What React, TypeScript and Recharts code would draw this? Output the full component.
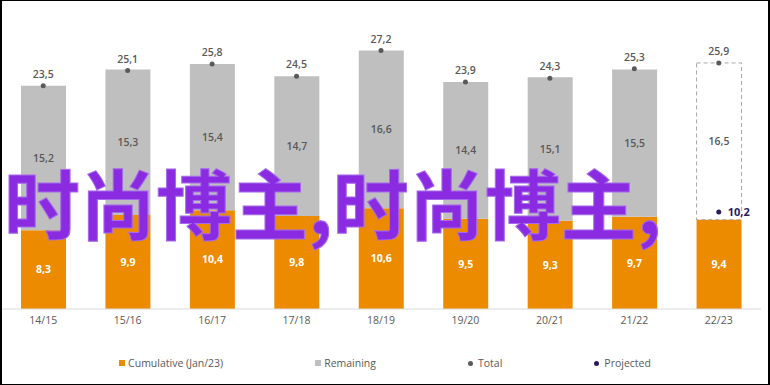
import React from "react";
import {
  ComposedChart,
  Bar,
  Line,
  XAxis,
  YAxis,
  Legend,
  LabelList,
  Cell,
} from "recharts";

const seasons = ["14/15", "15/16", "16/17", "17/18", "18/19", "19/20", "20/21", "21/22", "22/23"];
const cumulative = [8.3, 9.9, 10.4, 9.8, 10.6, 9.5, 9.3, 9.7, 9.4];
const remaining = [15.2, 15.3, 15.4, 14.7, 16.6, 14.4, 15.1, 15.5, 16.5];
const totals = [23.5, 25.1, 25.8, 24.5, 27.2, 23.9, 24.3, 25.3, 25.9];
const projected: (number | null)[] = [null, null, null, null, null, null, null, null, 10.2];
const projectedSeasons = ["22/23"];

const data = seasons.map((s, i) => ({
  season: s,
  cum: cumulative[i],
  rem: remaining[i],
  total: totals[i],
  proj: projected[i],
}));

const FONT = "'Open Sans', 'DejaVu Sans', sans-serif";
const ORANGE = "#ED8B00";
const GRAY = "#BFBFBF";
const DARK = "#595959";
const NAVY = "#2B1A5E";

const fmt = (v: any) => (v == null ? "" : String(v).replace(".", ","));

const legendItems = [
  { label: "Cumulative (Jan/23)", color: ORANGE, shape: "square" },
  { label: "Remaining", color: GRAY, shape: "square" },
  { label: "Total", color: DARK, shape: "circle" },
  { label: "Projected", color: NAVY, shape: "circle" },
];

const LegendContent = () => (
  <div
    style={{
      display: "flex",
      justifyContent: "center",
      gap: 92,
      fontFamily: FONT,
      fontSize: 10.5,
      color: DARK,
      alignItems: "center",
      width: 770,
    }}
  >
    {legendItems.map((it) => (
      <div key={it.label} style={{ display: "flex", alignItems: "center" }}>
        <span
          style={{
            display: "inline-block",
            width: it.shape === "square" ? 6 : 5,
            height: it.shape === "square" ? 6 : 5,
            borderRadius: it.shape === "circle" ? "50%" : 0,
            background: it.color,
            marginRight: it.shape === "square" ? 3 : 5,
          }}
        />
        <span>{it.label}</span>
      </div>
    ))}
  </div>
);

export default function App() {
  return (
    <div style={{ position: "absolute", left: 0, top: 0, width: 770, height: 385, background: "#fff" }}>
      <ComposedChart
        width={770}
        height={385}
        data={data}
        margin={{ top: 24, right: 9, bottom: 26, left: 1 }}
      >
        <XAxis
          dataKey="season"
          axisLine={{ stroke: "#D9D9D9" }}
          tickLine={false}
          tick={{ fill: DARK, fontSize: 10.5, fontFamily: FONT }}
          height={30}
          interval={0}
        />
        <YAxis hide domain={[0, 30]} />
        <Legend
          verticalAlign="bottom"
          content={<LegendContent />}
          wrapperStyle={{ top: 356, left: 0, width: 770, height: 20 }}
        />
        <Bar dataKey="cum" stackId="a" fill={ORANGE} barSize={45} isAnimationActive={false}>
          <LabelList
            dataKey="cum"
            position="center"
            formatter={fmt}
            style={{ fill: "#fff", fontSize: 10.5, fontWeight: 700, fontFamily: FONT }}
          />
        </Bar>
        <Bar dataKey="rem" stackId="a" fill={GRAY} barSize={45} isAnimationActive={false}>
          {data.map((d) => (
            <Cell
              key={d.season}
              fill={projectedSeasons.includes(d.season) ? "none" : GRAY}
              stroke={projectedSeasons.includes(d.season) ? "#A6A6A6" : "none"}
              strokeDasharray={projectedSeasons.includes(d.season) ? "4 3" : undefined}
              strokeWidth={1}
            />
          ))}
          <LabelList
            dataKey="rem"
            position="center"
            formatter={fmt}
            style={{ fill: DARK, fontSize: 10.5, fontWeight: 600, fontFamily: FONT }}
          />
        </Bar>
        <Line
          dataKey="total"
          stroke="none"
          strokeWidth={0}
          dot={{ r: 2.5, fill: DARK, stroke: "none" }}
          activeDot={false}
          isAnimationActive={false}
        >
          <LabelList
            dataKey="total"
            position="top"
            offset={8}
            formatter={fmt}
            style={{ fill: DARK, fontSize: 10.5, fontWeight: 600, fontFamily: FONT }}
          />
        </Line>
        <Line
          dataKey="proj"
          stroke="none"
          strokeWidth={0}
          dot={{ r: 2.5, fill: NAVY, stroke: "none" }}
          activeDot={false}
          isAnimationActive={false}
        >
          <LabelList
            dataKey="proj"
            position="right"
            offset={9}
            formatter={fmt}
            style={{ fill: NAVY, fontSize: 11, fontWeight: 700, fontFamily: FONT }}
          />
        </Line>
      </ComposedChart>
      <div
        style={{
          position: "absolute",
          left: 4,
          top: 163,
          fontFamily: "'Noto Sans CJK SC', sans-serif",
          fontSize: 76,
          fontWeight: 700,
          lineHeight: 1,
          color: "#8A2BE2",
          whiteSpace: "nowrap",
          WebkitTextStroke: "1px #A66BEA",
          pointerEvents: "none",
        }}
      >
        时尚博主,时尚博主,
      </div>
      <div
        style={{
          position: "absolute",
          left: 0,
          top: 0,
          width: 770,
          height: 385,
          boxSizing: "border-box",
          borderTop: "1px solid #000",
          borderBottom: "1px solid #000",
          borderLeft: "2px solid #000",
          borderRight: "2px solid #000",
          pointerEvents: "none",
        }}
      />
    </div>
  );
}
